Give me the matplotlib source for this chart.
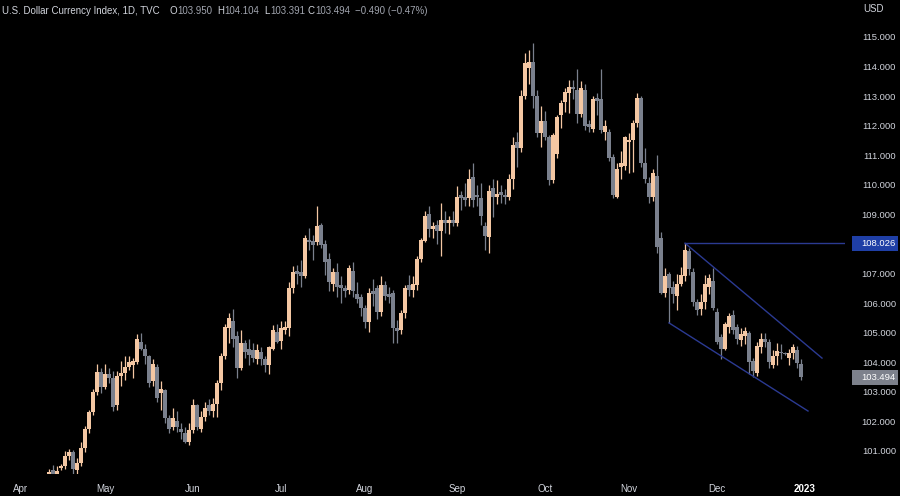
import matplotlib

matplotlib.use("Agg")
import matplotlib.pyplot as plt
import matplotlib.transforms as mtransforms
from matplotlib.patches import Rectangle
import pandas as pd

# Daily bars, one tuple per weekday: (open, high, low, close)
apr = [
    (98.30, 98.95, 98.30, 98.60), (98.60, 99.15, 98.55, 99.05), (99.05, 99.55, 98.90, 99.45),
    (99.45, 99.75, 99.30, 99.60), (99.60, 99.85, 99.40, 99.75), (99.75, 100.20, 99.60, 99.80),
    (99.80, 100.15, 99.70, 99.95), (99.95, 100.40, 99.80, 100.30), (100.35, 100.52, 99.70, 99.85),
    (99.85, 100.50, 99.80, 100.32), (100.42, 100.55, 100.35, 100.49), (100.49, 101.00, 100.40, 100.83),
    (100.83, 101.05, 100.70, 100.98), (100.97, 101.02, 100.20, 100.40), (100.35, 100.75, 100.20, 100.60),
    (100.60, 101.30, 100.50, 101.10), (101.10, 101.85, 100.95, 101.75), (101.75, 102.40, 101.60, 102.30),
    (102.30, 103.10, 102.20, 103.00), (103.00, 103.94, 102.90, 103.67), (103.67, 103.80, 102.95, 103.16),
]
may = [
    (103.16, 103.95, 103.10, 103.60), (103.60, 103.80, 103.30, 103.45), (103.47, 103.70, 102.35, 102.50),
    (102.55, 103.70, 102.40, 103.53), (103.55, 104.05, 103.20, 103.65), (103.65, 104.20, 103.40, 103.85),
    (103.85, 104.20, 103.75, 104.00), (103.90, 104.15, 103.45, 104.05), (104.00, 104.95, 103.95, 104.80),
    (104.70, 105.00, 104.40, 104.45), (104.45, 104.60, 103.95, 104.20), (104.20, 104.25, 103.15, 103.30),
    (103.35, 104.10, 103.20, 103.95), (103.85, 103.95, 102.65, 102.80), (102.95, 103.35, 102.40, 103.10),
    (103.05, 103.10, 101.95, 102.10), (102.10, 102.20, 101.60, 101.75), (101.80, 102.45, 101.70, 102.10),
    (102.00, 102.35, 101.65, 101.80), (101.75, 101.95, 101.40, 101.65), (101.60, 101.80, 101.27, 101.30),
    (101.30, 101.95, 101.20, 101.70),
]
jun = [
    (101.70, 102.75, 101.60, 102.55), (102.55, 102.60, 101.70, 101.80), (101.75, 102.35, 101.65, 102.15),
    (102.15, 102.65, 102.00, 102.45), (102.55, 102.75, 102.20, 102.35), (102.35, 102.80, 102.15, 102.60),
    (102.60, 103.40, 102.15, 103.30), (103.30, 104.30, 103.05, 104.20), (104.20, 105.30, 104.10, 105.20),
    (105.15, 105.67, 104.65, 105.50), (105.40, 105.80, 104.50, 104.80), (104.90, 105.05, 103.45, 103.80),
    (103.80, 105.10, 103.75, 104.65), (104.65, 104.75, 104.15, 104.35), (104.45, 104.80, 103.90, 104.25),
    (104.40, 104.65, 104.00, 104.15), (104.10, 104.60, 103.95, 104.40), (104.35, 104.50, 103.90, 104.10),
    (104.10, 104.20, 103.67, 103.90), (103.90, 104.55, 103.60, 104.50), (104.45, 105.27, 104.40, 105.10),
    (105.03, 105.30, 104.65, 104.69),
]
jul = [
    (104.72, 105.40, 104.45, 105.16), (105.10, 105.40, 104.95, 105.20), (105.15, 106.70, 104.90, 106.50),
    (106.50, 107.25, 106.35, 107.05), (107.10, 107.30, 106.65, 107.00), (107.05, 107.45, 106.55, 106.90),
    (106.90, 108.30, 106.85, 108.20), (108.15, 108.55, 107.80, 108.05), (108.10, 108.30, 107.45, 107.95),
    (108.05, 109.29, 107.95, 108.60), (108.65, 108.70, 107.85, 107.95), (108.00, 108.15, 106.95, 107.40),
    (107.50, 107.70, 106.40, 106.70), (106.65, 107.20, 106.40, 107.05), (107.05, 107.35, 106.20, 106.55),
    (106.60, 106.90, 106.00, 106.50), (106.50, 106.60, 106.20, 106.40), (106.45, 107.30, 106.30, 107.20),
    (107.10, 107.40, 106.20, 106.40), (106.30, 106.70, 106.00, 106.15), (106.20, 106.30, 105.55, 105.85),
]
aug = [
    (105.85, 105.95, 105.15, 105.35), (105.35, 106.50, 105.03, 106.35), (106.40, 106.80, 105.90, 106.30),
    (106.50, 106.60, 105.45, 105.70), (105.70, 106.90, 105.55, 106.60), (106.60, 106.75, 106.10, 106.25),
    (106.30, 106.55, 106.00, 106.20), (106.35, 106.45, 104.65, 105.15), (105.15, 105.43, 104.65, 105.05),
    (105.10, 105.75, 104.95, 105.65), (105.65, 106.60, 105.50, 106.50), (106.60, 106.95, 106.25, 106.45),
    (106.45, 106.90, 106.20, 106.65), (106.60, 107.60, 106.45, 107.50), (107.50, 108.20, 107.40, 108.15),
    (108.10, 109.10, 108.05, 108.95), (109.00, 109.30, 108.25, 108.50), (108.50, 108.75, 108.20, 108.60),
    (108.65, 108.80, 108.00, 108.45), (108.45, 109.40, 107.60, 108.80), (108.80, 109.10, 108.37, 108.70),
    (108.70, 108.95, 108.35, 108.80), (108.80, 109.10, 108.60, 108.70),
]
sep = [
    (108.70, 109.95, 108.60, 109.60), (109.65, 109.80, 109.15, 109.55), (109.60, 110.05, 109.30, 109.50),
    (109.55, 110.53, 109.30, 110.20), (110.25, 110.75, 109.25, 109.50), (109.65, 110.00, 109.30, 109.60),
    (109.55, 110.05, 108.65, 108.95), (108.60, 108.75, 107.80, 108.27), (108.25, 110.00, 107.70, 109.80),
    (109.90, 110.20, 108.90, 109.60), (109.60, 110.15, 109.35, 109.70), (109.75, 110.00, 109.40, 109.65),
    (109.65, 109.85, 109.35, 109.60), (109.60, 110.35, 109.50, 110.20), (110.20, 111.60, 109.85, 111.35),
    (111.45, 111.80, 110.60, 111.25), (111.25, 113.20, 111.10, 113.00), (113.00, 114.45, 112.90, 114.12),
    (113.95, 114.55, 113.40, 114.15), (114.15, 114.78, 112.60, 113.00), (113.00, 113.20, 111.60, 111.75),
    (111.75, 112.67, 111.28, 112.15),
]
oct_ = [
    (112.15, 112.50, 111.50, 111.60), (111.60, 111.70, 110.00, 110.15), (110.15, 111.75, 110.05, 111.70),
    (111.05, 112.36, 110.90, 112.30), (112.35, 112.87, 111.92, 112.75), (112.80, 113.28, 112.46, 113.15),
    (113.10, 113.55, 112.43, 113.30), (113.30, 113.55, 112.90, 113.25), (113.20, 113.90, 112.10, 112.40),
    (112.40, 113.50, 112.30, 113.28), (113.20, 113.40, 111.85, 112.00), (112.05, 112.20, 111.80, 111.95),
    (111.90, 113.00, 111.80, 112.90), (112.95, 113.10, 112.35, 112.85), (112.90, 113.90, 111.75, 111.85),
    (111.80, 112.20, 111.50, 112.00), (111.80, 111.90, 110.80, 110.90), (110.95, 111.05, 109.55, 109.65),
    (109.60, 110.75, 109.55, 110.55), (110.60, 111.15, 110.20, 110.75), (110.65, 111.65, 110.50, 111.60),
]
nov = [
    (111.45, 111.75, 110.40, 111.50), (111.50, 112.20, 110.45, 112.10), (112.10, 113.10, 111.95, 112.95),
    (112.95, 113.00, 110.60, 110.75), (110.75, 111.25, 110.05, 110.20), (110.05, 110.25, 109.40, 109.60),
    (109.60, 110.55, 109.45, 110.40), (110.30, 111.00, 107.70, 107.90), (108.20, 108.40, 106.30, 106.35),
    (106.35, 107.20, 106.20, 106.90), (107.00, 107.05, 105.33, 106.50), (106.55, 106.75, 106.00, 106.30),
    (106.25, 107.00, 105.75, 106.65), (106.65, 107.22, 106.58, 106.95), (106.90, 108.026, 106.75, 107.80),
    (107.75, 107.85, 106.95, 107.15), (107.05, 107.20, 105.90, 106.05), (106.05, 106.15, 105.60, 105.75),
    (105.80, 106.30, 105.60, 106.05), (106.05, 106.95, 105.80, 106.65), (106.55, 107.00, 106.30, 106.85),
    (106.75, 107.20, 105.75, 105.85),
]
dec = [
    (105.70, 105.85, 104.60, 104.70), (104.85, 104.95, 104.10, 104.45), (104.45, 105.35, 104.40, 105.30),
    (105.20, 105.65, 105.00, 105.55), (105.60, 105.75, 104.95, 105.10), (105.20, 105.30, 104.60, 104.80),
    (104.75, 105.15, 104.55, 104.95), (104.90, 105.20, 104.60, 105.05), (105.00, 105.05, 103.60, 104.00),
    (104.05, 104.15, 103.50, 103.70), (103.65, 104.70, 103.55, 104.55), (104.50, 105.00, 104.30, 104.80),
    (104.80, 105.00, 104.50, 104.70), (104.70, 104.80, 103.80, 104.00), (103.90, 104.40, 103.80, 104.20),
    (104.20, 104.65, 103.90, 104.38), (104.35, 104.60, 104.10, 104.30), (104.30, 104.35, 104.25, 104.28),
    (104.15, 104.45, 103.90, 104.30), (104.30, 104.60, 104.10, 104.50), (104.40, 104.55, 103.80, 103.984),
    (103.950, 104.104, 103.391, 103.494),
]

month_labels = ["Apr", "May", "Jun", "Jul", "Aug", "Sep", "Oct", "Nov", "Dec", "2023"]
# 108 is hidden behind the level tag on the price axis
price_ticks = [101, 102, 103, 104, 105, 106, 107, 109, 110, 111, 112, 113, 114, 115]

# hand-drawn falling wedge (bar index, price) and the marked level
upper_line = ([166, 200.25], [108.026, 104.14])
lower_line = ([162, 196.75], [105.33, 102.35])
level_price = 108.026
level_start = 166

UP = "#f4c7a3"
DOWN = "#7a808d"
LINE = "#2b3a92"
TEXT = "#d1d4dc"
FONT = ["Liberation Sans", "DejaVu Sans"]

bars = apr + may + jun + jul + aug + sep + oct_ + nov + dec
dates = pd.bdate_range("2022-04-01", "2022-12-30")
df = pd.DataFrame(bars, columns=["open", "high", "low", "close"], index=dates)
x = list(range(len(df)))

W, H = 900, 496
plt.rcParams["font.family"] = FONT
fig = plt.figure(figsize=(W / 100, H / 100), dpi=100, facecolor="black")
ax = fig.add_axes([0, 22 / H, 845 / W, 474 / H], facecolor="black")

colors = [UP if c >= o else DOWN for o, c in zip(df["open"], df["close"])]
ax.vlines(x, df["low"], df["high"], colors=colors, linewidth=0.9, zorder=2)
bottoms = [min(o, c) for o, c in zip(df["open"], df["close"])]
heights = [max(abs(c - o), 0.035) for o, c in zip(df["open"], df["close"])]
ax.bar(x, heights, bottom=bottoms, width=0.8, color=colors, linewidth=0, zorder=3)

# wedge and level
ax.plot(*upper_line, color=LINE, linewidth=1.0, zorder=4)
ax.plot(*lower_line, color=LINE, linewidth=1.0, zorder=4)
ax.plot([level_start, 300], [level_price, level_price], color=LINE, linewidth=1.0, zorder=4)

ax.set_xlim(-5.25, 206)
ax.set_ylim(100.22, 116.25)
for s in ax.spines.values():
    s.set_visible(False)

# month ticks at the first bar of each month, plus the next year
months = df.index.to_period("M")
tick_pos = [i for i in range(len(df)) if i == 0 or months[i] != months[i - 1]] + [len(df)]
ax.set_xticks(tick_pos)
ax.set_xticklabels(month_labels, fontsize=7, color=TEXT)
ax.get_xticklabels()[-1].set_fontweight("bold")
ax.get_xticklabels()[-1].set_color("white")
ax.tick_params(axis="x", length=0, pad=7)

# price labels right-aligned near the figure edge
ax.yaxis.tick_right()
ax.set_yticks(price_ticks)
ax.set_yticklabels([f"{p:.3f}" for p in price_ticks], fontsize=6.8, color=TEXT, ha="right")
ax.tick_params(axis="y", length=0, pad=(896 - 845) * 0.72)

# price-axis tags
trans = mtransforms.blended_transform_factory(fig.transFigure, ax.transData)
last = df.iloc[-1]
for price, face in [(level_price, "#1f3fa6"), (last["close"], "#7d818c")]:
    half = 7.5 / 29.57
    fig.add_artist(Rectangle((852 / W, price - half), 46 / W, 2 * half, transform=trans,
                             facecolor=face, edgecolor="none", zorder=5, clip_on=False))
    fig.add_artist(plt.Text(896 / W, price, f"{price:.3f}", transform=trans, fontsize=6.8,
                            color="white", va="center", ha="right", zorder=6, family=FONT))

fig.text(863 / W, 1 - 9 / H, "USD", fontsize=7, color=TEXT, va="center", ha="left")

# header line
prev_close = df["close"].iloc[-2]
chg = last["close"] - prev_close
pct = chg / prev_close * 100
ty = 1 - 11 / H
VAL = "#a0a4ae"
fig.text(2 / W, ty, "U.S. Dollar Currency Index, 1D, TVC", fontsize=7, color=TEXT, va="center")
parts = [
    (170, "O", TEXT), (177, f"{last['open']:.3f}", VAL),
    (217, "H", TEXT), (224, f"{last['high']:.3f}", VAL),
    (264, "L", TEXT), (270, f"{last['low']:.3f}", VAL),
    (308, "C", TEXT), (315, f"{last['close']:.3f}", VAL),
    (355, f"{chg:.3f} ({pct:.2f}%)".replace("-", "\u2212"), VAL),
]
for px, s, c in parts:
    fig.text(px / W, ty, s, fontsize=7, color=c, va="center")

fig.savefig("out.png", dpi=100, facecolor="black")
plt.close(fig)
